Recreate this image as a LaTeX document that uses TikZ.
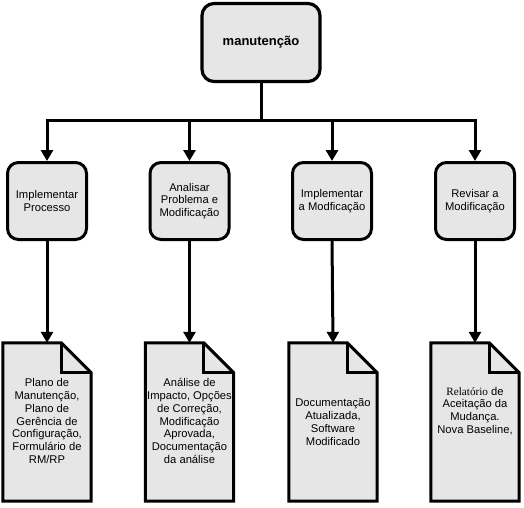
\documentclass[tikz,border=0pt]{standalone}
\usepackage{fontspec}
\setmainfont{Liberation Sans}
\newfontfamily\serifrel{Liberation Serif}
\usetikzlibrary{arrows.meta}
\definecolor{boxfill}{HTML}{E6E6E6}
\tikzset{
  topbox/.style={draw, line width=3.2pt, fill=boxfill, rounded corners=12pt, minimum width=118pt, minimum height=78pt, inner sep=0pt, font=\bfseries\fontsize{13}{15}\selectfont},
  stepbox/.style={draw, line width=3pt, fill=boxfill, rounded corners=11pt, minimum width=79pt, minimum height=77pt, inner sep=0pt, align=center, font=\fontsize{11.2}{12.8}\selectfont},
  docframe/.style={draw=none, minimum width=88pt, minimum height=158pt, inner sep=0pt},
  docline/.style={draw, line width=3pt, fill=boxfill, line join=miter},
  doctext/.style={align=center, inner sep=0pt, font=\fontsize{11.2}{12.8}\selectfont},
  conn/.style={line width=3pt},
  arr/.style={line width=3pt, -{Triangle[length=11pt,width=12pt]}},
}
\newcommand{\docoutline}[1]{%
  \filldraw[docline] (#1.north west) -- ([xshift=-30pt]#1.north east) -- ([yshift=-30pt]#1.north east) -- (#1.south east) -- (#1.south west) -- cycle;
  \draw[docline, fill=none] ([xshift=-30pt]#1.north east) -- ([xshift=-30pt,yshift=-30pt]#1.north east) -- ([yshift=-30pt]#1.north east);
}
\begin{document}
\begin{tikzpicture}[x=1pt,y=-1pt]
\useasboundingbox (0,0) rectangle (524,507);
\node[topbox] (top) at (261,42.5) {manutenção};
\node[stepbox] (b1) at (47,201) {Implementar\\Processo};
\node[stepbox] (b2) at (189.5,201) {Analisar\\Problema e\\Modificação};
\node[stepbox] (b3) at (332,201) {Implementar\\a Modficação};
\node[stepbox] (b4) at (475,201) {Revisar a\\Modificação};
\coordinate (bus) at (261,120);
\draw[conn] (top.south) -- (bus);
\draw[arr] (bus) -| (b1.north);
\draw[arr] (bus) -| (b2.north);
\draw[arr] (bus) -| (b3.north);
\draw[arr] (bus) -| (b4.north);
\node[docframe] (d1) at (47,422) {};
\node[docframe] (d2) at (189.5,422) {};
\node[docframe] (d3) at (333,422) {};
\node[docframe] (d4) at (475,422) {};
\docoutline{d1}
\docoutline{d2}
\docoutline{d3}
\docoutline{d4}
\node[doctext] (t1) at (47,421) {Plano de\\Manutenção,\\Plano de\\Gerência de\\Configuração,\\Formulário de\\RM/RP};
\node[doctext] (t2) at (189.5,421) {Análise de\\Impacto, Opções\\de Correção,\\Modificação\\Aprovada,\\Documentação\\da análise};
\node[doctext] (t3) at (333,422) {Documentação\\Atualizada,\\Software\\Modificado};
\node[doctext] (t4) at (475,411) {{\serifrel Relatório} de\\Aceitação da\\Mudança.\\Nova Baseline,};
\draw[arr] (b1.south) -- (d1.north);
\draw[arr] (b2.south) -- (d2.north);
\draw[arr] (b3.south) -- (d3.north);
\draw[arr] (b4.south) -- (d4.north);
\end{tikzpicture}
\end{document}
